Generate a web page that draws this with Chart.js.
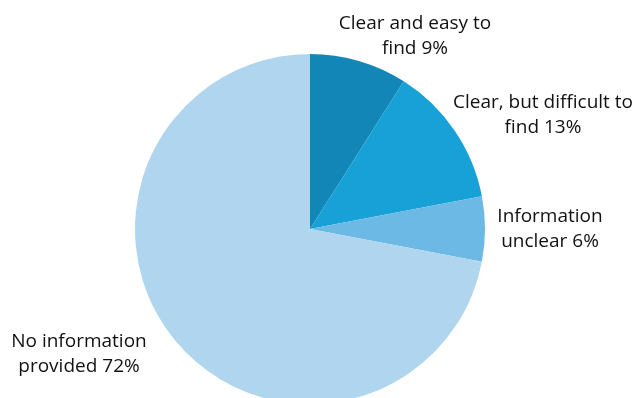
<!DOCTYPE html>
<html>
<head>
<meta charset="utf-8">
<script src="https://cdn.jsdelivr.net/npm/chart.js@4"></script>
<style>
  html, body { margin: 0; padding: 0; background: #fff; overflow: hidden; }
  #wrap { width: 636px; height: 398px; overflow: hidden; }
</style>
</head>
<body>
<div id="wrap"><canvas id="pie" width="636" height="420"></canvas></div>
<script>
const categories = [
  ["Clear and easy to", "find"],
  ["Clear, but difficult to", "find"],
  ["Information", "unclear"],
  ["No information", "provided"]
];
const shares = [9, 13, 6, 72];
const sliceColors = ["#1286b6", "#18a1d7", "#6bb9e4", "#b0d5ef"];

// where each two-line label sits (centre of the text block)
const labelSpots = [
  { x: 415, y: 36 },
  { x: 543, y: 115 },
  { x: 550, y: 229 },
  { x: 79, y: 354 }
];

const sliceLabels = {
  id: "sliceLabels",
  afterDraw(chart) {
    const ctx = chart.ctx;
    ctx.save();
    ctx.font = "19px 'Open Sans'";
    ctx.fillStyle = "#111";
    ctx.textAlign = "center";
    ctx.textBaseline = "middle";
    const lineH = 25;
    categories.forEach((lines, i) => {
      const spot = labelSpots[i];
      const text = [lines[0], lines[1] + " " + shares[i] + "%"];
      text.forEach((t, j) => {
        ctx.fillText(t, spot.x, spot.y + (j - 0.5) * lineH);
      });
    });
    ctx.restore();
  }
};

new Chart(document.getElementById("pie"), {
  type: "pie",
  data: {
    labels: categories.map((c) => c.join(" ")),
    datasets: [
      {
        data: shares,
        backgroundColor: sliceColors,
        borderWidth: 0
      }
    ]
  },
  options: {
    responsive: false,
    animation: false,
    layout: { padding: { top: 54, bottom: 16, left: 135, right: 151 } },
    plugins: {
      legend: { display: false },
      tooltip: { enabled: false }
    }
  },
  plugins: [sliceLabels]
});
</script>
</body>
</html>
